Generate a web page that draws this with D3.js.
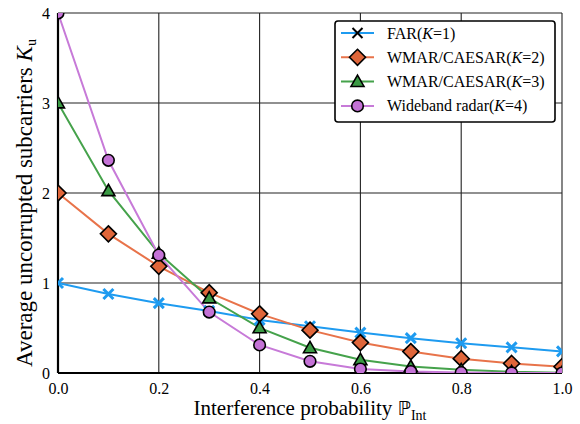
<!DOCTYPE html>
<html><head><meta charset="utf-8">
<script src="https://cdn.jsdelivr.net/npm/d3@7"></script>
<style>body{margin:0;background:#fff}svg{display:block}</style>
</head><body><div id="c"></div>
<script>
const probs = [0,0.1,0.2,0.3,0.4,0.5,0.6,0.7,0.8,0.9,1.0];
const far  = [1.0,0.878,0.776,0.69,0.59,0.52,0.449,0.387,0.331,0.285,0.24];
const wmar2= [2.0,1.546,1.185,0.893,0.657,0.476,0.338,0.238,0.159,0.106,0.07];
const wmar3= [3.0,2.025,1.33,0.833,0.502,0.28,0.147,0.072,0.035,0.013,0.004];
const wide4= [4.0,2.363,1.31,0.677,0.312,0.13,0.044,0.016,0.005,0.001,0.0];
const seriesNames = ["FAR(K=1)","WMAR/CAESAR(K=2)","WMAR/CAESAR(K=3)","Wideband radar(K=4)"];
const seriesPrefix = ["FAR(","WMAR/CAESAR(","WMAR/CAESAR(","Wideband radar("];
const seriesK = ["1","2","3","4"];
const colors = ["#1e9bf0","#e8734a","#45a24b","#c77ad8"];
const markerFill = ["#1e9bf0","#e0663a","#3a9a44","#c472d6"];
const markers = ["x","diamond","triangle","circle"];
const xTicks = [0,0.2,0.4,0.6,0.8,1.0];
const yTicks = [0,1,2,3,4];
const allSeries = [far,wmar2,wmar3,wide4];

const SERIF = "Liberation Serif, Times New Roman, Times, DejaVu Serif, serif";
const W=580,H=424, m={l:58,r:18,t:13,b:51};
const svg=d3.select("#c").append("svg").attr("width",W).attr("height",H);
const x=d3.scaleLinear().domain([0,1]).range([m.l,W-m.r]);
const y=d3.scaleLinear().domain([0,4]).range([H-m.b,m.t]);

svg.append("defs").append("clipPath").attr("id","clip").append("rect")
  .attr("x",x(0)).attr("y",y(4)).attr("width",x(1)-x(0)).attr("height",y(0)-y(4));

const g=svg.append("g");
g.selectAll(".vx").data(xTicks).join("line").attr("x1",d=>x(d)).attr("x2",d=>x(d))
  .attr("y1",y(0)).attr("y2",y(4)).attr("stroke","#222").attr("stroke-width",1.1);
g.selectAll(".hy").data(yTicks).join("line").attr("y1",d=>y(d)).attr("y2",d=>y(d))
  .attr("x1",x(0)).attr("x2",x(1)).attr("stroke","#222").attr("stroke-width",1.1);

const xa=svg.append("g").attr("transform",`translate(0,${y(0)})`)
  .call(d3.axisBottom(x).tickValues(xTicks).tickFormat(d3.format(".1f")).tickSize(0).tickPadding(10));
const ya=svg.append("g").attr("transform",`translate(${x(0)},0)`)
  .call(d3.axisLeft(y).tickValues(yTicks).tickFormat(d3.format("d")).tickSize(0).tickPadding(8));
[xa,ya].forEach(a=>{a.select(".domain").remove();a.attr("font-family",SERIF).attr("font-size",16);
  a.selectAll("text").attr("fill","#000");});

svg.append("line").attr("x1",x(0)).attr("x2",x(0)).attr("y1",y(0)).attr("y2",y(4)).attr("stroke","#000").attr("stroke-width",2.2);
svg.append("line").attr("x1",x(0)).attr("x2",x(1)).attr("y1",y(0)).attr("y2",y(0)).attr("stroke","#000").attr("stroke-width",2.2);

const line=d3.line().x((d,i)=>x(probs[i])).y(d=>y(d));
const plot=svg.append("g").attr("clip-path","url(#clip)");

function drawMarker(sel,type,i,cx,cy,legend){
  if(type==="x"){
    const s=5, col = legend? "#000":colors[i];
    sel.append("path").attr("d",`M${cx-s},${cy-s}L${cx+s},${cy+s}M${cx-s},${cy+s}L${cx+s},${cy-s}`)
      .attr("stroke",col).attr("stroke-width",legend?2:3).attr("fill","none");
  } else if(type==="diamond"){
    const s=8;
    sel.append("path").attr("d",`M${cx},${cy-s}L${cx+s},${cy}L${cx},${cy+s}L${cx-s},${cy}Z`)
      .attr("fill",markerFill[i]).attr("stroke","#000").attr("stroke-width",1.6);
  } else if(type==="triangle"){
    const s=6.5;
    sel.append("path").attr("d",`M${cx},${cy-s}L${cx+s},${cy+s*0.75}L${cx-s},${cy+s*0.75}Z`)
      .attr("fill",markerFill[i]).attr("stroke","#000").attr("stroke-width",1.6);
  } else {
    sel.append("circle").attr("cx",cx).attr("cy",cy).attr("r",5.8)
      .attr("fill",markerFill[i]).attr("stroke","#000").attr("stroke-width",1.6);
  }
}

allSeries.forEach((s,i)=>{
  plot.append("path").datum(s).attr("d",line).attr("fill","none").attr("stroke",colors[i]).attr("stroke-width",2);
});
allSeries.forEach((s,i)=>{
  s.forEach((v,j)=>drawMarker(plot,markers[i],i,x(probs[j]),y(v),false));
});

const lg=svg.append("g").attr("font-family",SERIF);
lg.append("rect").attr("x",335).attr("y",21).attr("width",220).attr("height",101).attr("rx",3)
  .attr("fill","#fff").attr("stroke","#000").attr("stroke-width",1.6);
seriesNames.forEach((n,i)=>{
  const yy=33+i*24.3;
  lg.append("line").attr("x1",341).attr("x2",374).attr("y1",yy).attr("y2",yy).attr("stroke",colors[i]).attr("stroke-width",2);
  drawMarker(lg,markers[i],i,357.5,yy,true);
  const t=lg.append("text").attr("x",387).attr("y",yy+5.5).attr("font-size",16);
  t.append("tspan").text(seriesPrefix[i]);
  t.append("tspan").attr("font-style","italic").text("K");
  t.append("tspan").text("="+seriesK[i]+")");
});

const xl=svg.append("text").attr("font-family",SERIF).attr("x",(x(0)+x(1))/2).attr("y",415).attr("text-anchor","middle").attr("font-size",21);
xl.append("tspan").text("Interference probability ");
xl.append("tspan").attr("font-family","DejaVu Sans, sans-serif").attr("font-size",19).text("ℙ");
xl.append("tspan").attr("dy",5).attr("font-size",14).text("Int");

const yl=svg.append("text").attr("font-family",SERIF).attr("transform",`translate(32,${(y(0)+y(4))/2+10}) rotate(-90)`).attr("text-anchor","middle").attr("font-size",23);
yl.append("tspan").text("Average uncorrupted subcarriers ");
yl.append("tspan").attr("font-style","italic").text("K");
yl.append("tspan").attr("dy",4).attr("font-size",14).text("u");
</script></body></html>
